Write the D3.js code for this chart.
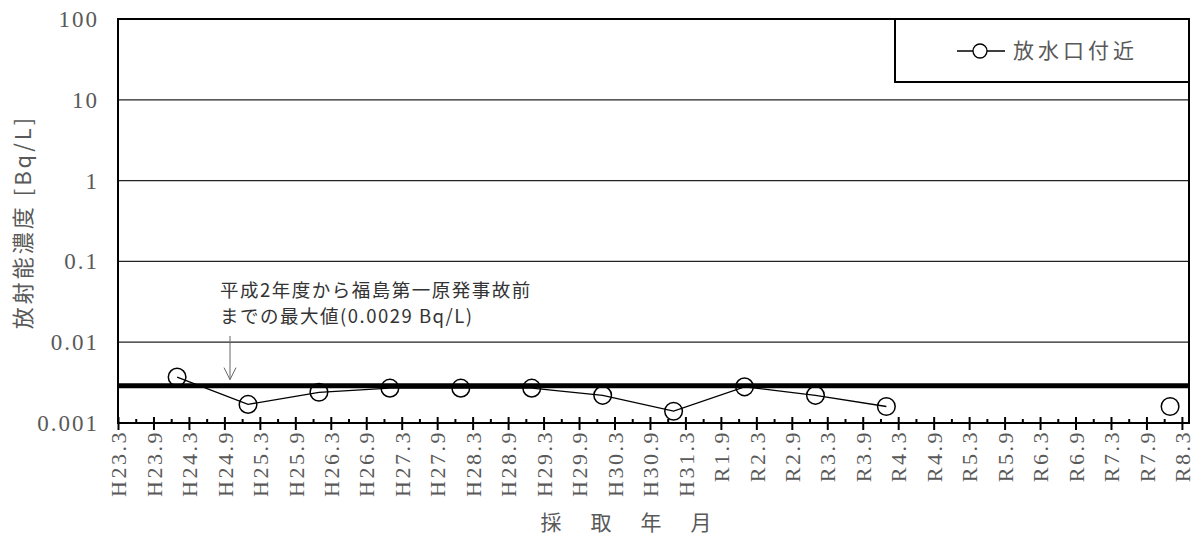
<!DOCTYPE html>
<html>
<head>
<meta charset="utf-8">
<script src="https://cdn.jsdelivr.net/npm/d3@7"></script>
<style>
  html, body { margin: 0; padding: 0; background: #fff; }
  svg text { font-family: "Liberation Serif", "DejaVu Serif", serif; }
  .jp { font-family: "Noto Sans CJK JP", "Noto Sans", sans-serif; }
</style>
</head>
<body>
<svg id="chart" width="1194" height="539"></svg>
<script>
// x ticks every 6 months, starting H23.3 (2011-03)
const tickLabels = ['H23.3','H23.9','H24.3','H24.9','H25.3','H25.9','H26.3','H26.9',
  'H27.3','H27.9','H28.3','H28.9','H29.3','H29.9','H30.3','H30.9','H31.3','R1.9',
  'R2.3','R2.9','R3.3','R3.9','R4.3','R4.9','R5.3','R5.9','R6.3','R6.9','R7.3','R7.9','R8.3'];
const yTicks = [0.001, 0.01, 0.1, 1, 10, 100];
const yTickLabels = ['0.001', '0.01', '0.1', '1', '10', '100'];

// sampling month (yyyy-mm) and concentration [Bq/L]; null = no plotted value
const sampleMonths = ['2012-01','2013-01','2014-01','2015-01','2016-01','2017-01','2018-01',
  '2019-01','2020-01','2021-01','2022-01','2023-01','2024-01','2025-01','2026-01'];
const sampleValues = [0.0037, 0.0017, 0.0024, 0.0027, 0.0027, 0.0027, 0.0022,
  0.0014, 0.0028, 0.0022, 0.0016, null, null, null, 0.0016];

const seriesName = '放水口付近';
const refValue = 0.0029;   // 平成2年度から事故前までの最大値
const refNote = ['平成2年度から福島第一原発事故前', 'までの最大値(0.0029 Bq/L)'];

// months since 2011-03
function monthIndex(s){
  const [yy, mm] = s.split('-').map(Number);
  return (yy - 2011) * 12 + (mm - 3);
}
const data = sampleMonths.map((m, i) => ({m: monthIndex(m), v: sampleValues[i]}));

const svg = d3.select('#chart');
const pl = 118, pr = 1189, pt = 19, pb = 423;

const x = d3.scaleLinear().domain([0, 181.2]).range([pl, pr]);
const y = d3.scaleLog().domain([0.001, 100]).range([pb, pt]);
const textGray = '#595959';

// grid lines
svg.append('g').selectAll('line').data(yTicks.slice(1, -1)).join('line')
  .attr('x1', pl).attr('x2', pr)
  .attr('y1', d => y(d)).attr('y2', d => y(d))
  .attr('stroke', '#222').attr('stroke-width', 1.2);

// y labels
svg.append('g').selectAll('text').data(yTicks).join('text')
  .attr('x', 99).attr('y', d => y(d)).attr('dy', '0.35em')
  .attr('text-anchor', 'end').attr('fill', textGray)
  .attr('font-size', 23).attr('letter-spacing', 2)
  .text((d, i) => yTickLabels[i]);

// x axis: major ticks
const majors = tickLabels.map((d, i) => i * 6);
const xAxis = svg.append('g').attr('transform', `translate(0,${pb})`)
  .call(d3.axisBottom(x).tickValues(majors).tickSize(7).tickFormat((d, i) => tickLabels[i]));
xAxis.select('.domain').remove();
xAxis.selectAll('.tick line').attr('y1', -6).attr('stroke', '#000').attr('stroke-width', 2);
xAxis.selectAll('.tick text')
  .attr('transform', 'rotate(-90)')
  .attr('x', -7).attr('y', 0).attr('dy', '0.35em')
  .attr('text-anchor', 'end')
  .attr('fill', textGray)
  .attr('font-size', 22).attr('letter-spacing', 2.5)
  .attr('font-family', '"Liberation Serif", serif');

// minor ticks
const minorAxis = svg.append('g').attr('transform', `translate(0,${pb})`)
  .call(d3.axisBottom(x).tickValues(majors.slice(0, -1).map(d => d + 3)).tickSize(-4).tickFormat(''));
minorAxis.select('.domain').remove();
minorAxis.selectAll('.tick line').attr('stroke', '#000').attr('stroke-width', 2);

// reference line
svg.append('line')
  .attr('x1', pl).attr('x2', pr)
  .attr('y1', y(refValue)).attr('y2', y(refValue))
  .attr('stroke', '#000').attr('stroke-width', 5);

// data line + markers
const line = d3.line().defined(d => d.v != null).x(d => x(d.m)).y(d => y(d.v));
svg.append('path').datum(data).attr('d', line)
  .attr('fill', 'none').attr('stroke', '#000').attr('stroke-width', 1.3);
svg.append('g').selectAll('circle').data(data.filter(d => d.v != null)).join('circle')
  .attr('cx', d => x(d.m)).attr('cy', d => y(d.v)).attr('r', 8.8)
  .attr('fill', 'none').attr('stroke', '#000').attr('stroke-width', 1.5);

// frame
svg.append('rect').attr('x', pl).attr('y', pt)
  .attr('width', pr - pl).attr('height', pb - pt)
  .attr('fill', 'none').attr('stroke', '#000').attr('stroke-width', 2);

// annotation
svg.append('g').selectAll('text').data(refNote).join('text')
  .attr('class', 'jp')
  .attr('x', 220).attr('y', (d, i) => 291 + i * 26).attr('dy', '0.35em')
  .attr('font-size', 18.5).attr('letter-spacing', 1.5).attr('fill', '#333')
  .text(d => d);
const ax = 230, ay1 = 336, ay2 = y(refValue) - 6;
svg.append('path')
  .attr('d', `M${ax},${ay1}V${ay2}M${ax - 6},${ay2 - 12}L${ax},${ay2}L${ax + 6},${ay2 - 12}`)
  .attr('fill', 'none').attr('stroke', '#666').attr('stroke-width', 1);

// legend
const lg = svg.append('g');
lg.append('rect').attr('x', 895).attr('y', pt).attr('width', pr - 895).attr('height', 63)
  .attr('fill', '#fff').attr('stroke', '#000').attr('stroke-width', 2);
lg.append('line').attr('x1', 957).attr('x2', 1005).attr('y1', 51).attr('y2', 51)
  .attr('stroke', '#000').attr('stroke-width', 1.3);
lg.append('circle').attr('cx', 980).attr('cy', 51).attr('r', 7)
  .attr('fill', '#fff').attr('stroke', '#000').attr('stroke-width', 1.3);
lg.append('text').attr('class', 'jp')
  .attr('x', 1013).attr('y', 51).attr('dy', '0.35em')
  .attr('font-size', 21).attr('letter-spacing', 4).attr('fill', textGray)
  .text(seriesName);

// axis titles
svg.append('text').attr('class', 'jp')
  .attr('transform', 'translate(23,222) rotate(-90)')
  .attr('text-anchor', 'middle').attr('dy', '0.35em')
  .attr('font-size', 22).attr('letter-spacing', 3).attr('fill', textGray)
  .text('放射能濃度 [Bq/L]');
svg.append('text').attr('class', 'jp')
  .attr('x', 628).attr('y', 523).attr('dy', '0.35em')
  .attr('text-anchor', 'middle')
  .attr('font-size', 21).attr('letter-spacing', 4).attr('fill', textGray)
  .text('採　取　年　月');
</script>
</body>
</html>
